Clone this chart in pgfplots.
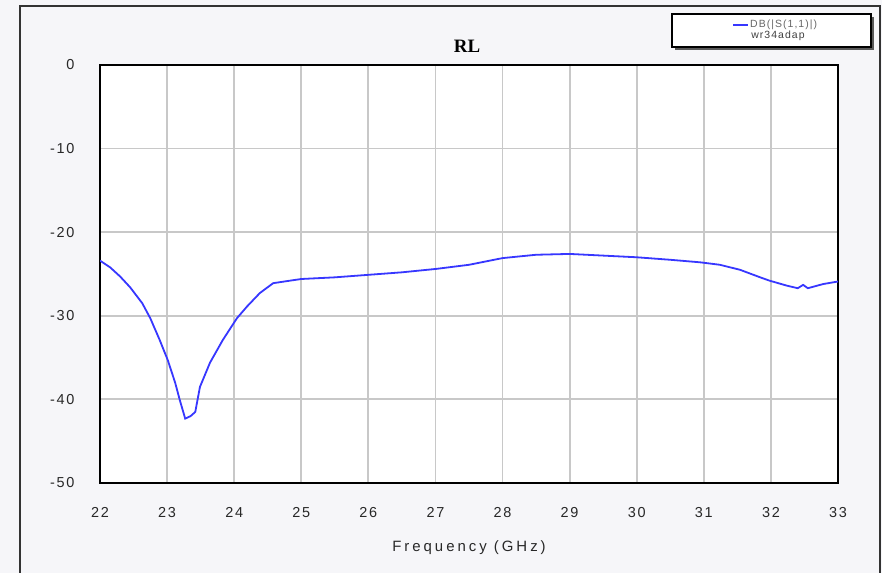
\documentclass[border=0pt]{standalone}
\usepackage{fontspec}
\setmainfont{Liberation Sans}
\newfontfamily\titlefont{Liberation Serif}
\newfontfamily\spacedfont[LetterSpace=12]{Liberation Sans}
\newfontfamily\widefont[LetterSpace=20]{Liberation Sans}
\newfontfamily\legfont[LetterSpace=10]{Liberation Sans}
\usepackage{pgfplots}
\pgfplotsset{compat=1.18}

\definecolor{bgcol}{RGB}{246,246,249}
\definecolor{gridcol}{RGB}{200,200,200}
\definecolor{tracecol}{RGB}{55,55,255}
\definecolor{labcol}{RGB}{40,40,40}

\begin{document}
\begin{tikzpicture}[x=1bp,y=1bp]
% page background and outer frame
\fill[bgcol] (0,0) rectangle (882,573);
\draw[line width=1.5bp,black!80] (20,0) -- (20,567) -- (880,567) -- (880,0);

\begin{axis}[
    at={(100bp,90bp)}, anchor=south west,
    scale only axis,
    width=738bp, height=418bp,
    xmin=22, xmax=33,
    ymin=-50, ymax=0,
    xtick={22,23,...,33},
    ytick={-50,-40,...,0},
    grid=major,
    grid style={gridcol, line width=1.8bp},
    major tick length=0pt,
    axis line style={black, line width=1.8bp},
    axis background/.style={fill=white},
    /pgf/number format/assume math mode=true,
    ticklabel style={font=\spacedfont\fontsize{14.5}{16}\selectfont, text=labcol},
    xticklabel style={yshift=-21bp},
    yticklabel style={xshift=-22bp},
    xlabel={Frequency (GHz)},
    xlabel style={font=\widefont\fontsize{15}{17}\selectfont, text=labcol, yshift=-16bp},
    title={RL},
    title style={font=\titlefont\bfseries\fontsize{19}{21}\selectfont, xshift=-2bp, yshift=3bp},
]
\addplot[color=tracecol, line width=1.8bp] coordinates {
(22.00,-23.4) (22.15,-24.2) (22.30,-25.3) (22.45,-26.6) (22.63,-28.5)
(22.75,-30.3) (22.89,-32.9) (23.01,-35.3) (23.12,-38.0) (23.19,-40.1)
(23.27,-42.3) (23.35,-42.0) (23.42,-41.5) (23.49,-38.5) (23.64,-35.6)
(23.83,-32.9) (24.04,-30.3) (24.19,-28.9) (24.38,-27.3) (24.58,-26.1)
(24.83,-25.8) (25.00,-25.6) (25.50,-25.4) (26.00,-25.1) (26.50,-24.8)
(27.00,-24.4) (27.50,-23.9) (28.00,-23.1) (28.50,-22.7) (29.00,-22.6)
(29.50,-22.8) (30.00,-23.0) (30.50,-23.3) (30.94,-23.6) (31.24,-23.9)
(31.54,-24.5) (31.84,-25.4) (31.98,-25.8) (32.24,-26.4) (32.40,-26.7)
(32.48,-26.3) (32.55,-26.7) (32.78,-26.2) (33.00,-25.9)
};
\end{axis}

% legend box with shadow
\fill[black!65] (675,523) rectangle (874,556);
\filldraw[fill=white, draw=black, line width=1.2bp] (672,526) rectangle (871,559);
\draw[tracecol, line width=1.8bp] (733,548) -- (748,548);
\node[anchor=west, font=\legfont\fontsize{10.5}{12}\selectfont, text=black!60, inner sep=0pt] at (750,548) {DB(|S(1,1)|)};
\node[font=\legfont\fontsize{10.5}{12}\selectfont, text=black!75, inner sep=0pt] at (778,537) {wr34adap};
\end{tikzpicture}
\end{document}
